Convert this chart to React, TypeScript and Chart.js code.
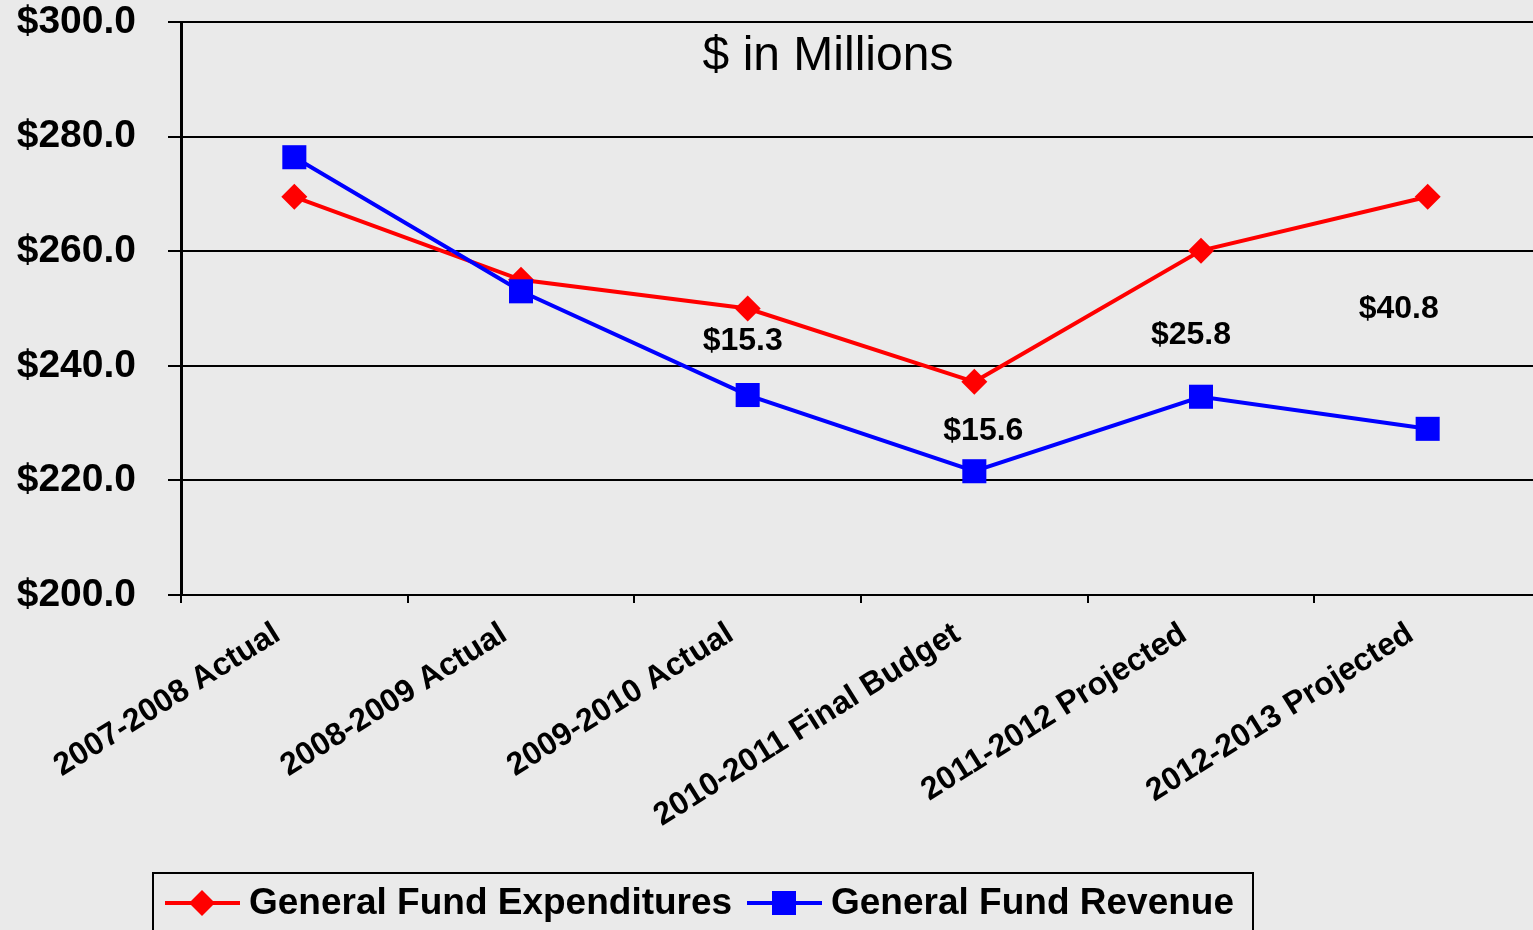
import React, { useEffect, useRef } from 'react';
import { Chart, registerables } from 'chart.js';

Chart.register(...registerables);

const categories = [
  '2007-2008 Actual',
  '2008-2009 Actual',
  '2009-2010 Actual',
  '2010-2011 Final Budget',
  '2011-2012 Projected',
  '2012-2013 Projected',
];
const expenditures = [269.5, 255.0, 250.0, 237.2, 260.1, 269.5];
const revenue = [276.4, 253.0, 234.9, 221.6, 234.6, 229.0];
const gapLabels = ['', '', '$15.3', '$15.6', '$25.8', '$40.8'];
const gapLabelValues = [0, 0, 244.3, 228.6, 245.4, 249.9];
const yMin = 200;
const yMax = 300;
const yStep = 20;
const titleText = '$ in Millions';
const seriesNames = ['General Fund Expenditures', 'General Fund Revenue'];

const FONT = 'Arial, "Liberation Sans", sans-serif';
const BG = '#EAEAEA';
const gapDx = [0, 0, -5, 9, -10, -29];

const overlayPlugin = {
  id: 'overlay',
  afterDatasetsDraw(chart: any) {
    const ctx = chart.ctx;
    const xs = chart.scales.x;
    const ys = chart.scales.y;
    ctx.save();
    ctx.fillStyle = '#000';
    ctx.textAlign = 'center';
    ctx.textBaseline = 'middle';
    ctx.font = `bold 32px ${FONT}`;
    gapLabels.forEach((t, i) => {
      if (!t) return;
      ctx.fillText(t, xs.getPixelForValue(i) + gapDx[i], ys.getPixelForValue(gapLabelValues[i]));
    });
    ctx.font = `48px ${FONT}`;
    ctx.fillText(titleText, chart.chartArea.left + 647, chart.chartArea.top + 35);
    ctx.restore();
  },
  afterDraw(chart: any) {
    const ctx = chart.ctx;
    ctx.save();
    ctx.fillStyle = BG;
    ctx.fillRect(153, 873, 1100, 80);
    ctx.strokeStyle = '#000';
    ctx.lineWidth = 2;
    ctx.strokeRect(153, 873, 1100, 80);
    const ly = 903;
    const items = [
      { x: 165, color: '#FF0000', style: 'diamond', textX: 249 },
      { x: 747, color: '#0000FF', style: 'square', textX: 831 },
    ];
    items.forEach((it, i) => {
      ctx.strokeStyle = it.color;
      ctx.lineWidth = 4;
      ctx.beginPath();
      ctx.moveTo(it.x, ly);
      ctx.lineTo(it.x + 75, ly);
      ctx.stroke();
      ctx.fillStyle = it.color;
      const cx = it.x + 37;
      ctx.beginPath();
      if (it.style === 'diamond') {
        ctx.moveTo(cx, ly - 13);
        ctx.lineTo(cx + 13, ly);
        ctx.lineTo(cx, ly + 13);
        ctx.lineTo(cx - 13, ly);
        ctx.closePath();
      } else {
        ctx.rect(cx - 12, ly - 12, 24, 24);
      }
      ctx.fill();
      ctx.fillStyle = '#000';
      ctx.font = `bold 37px ${FONT}`;
      ctx.textAlign = 'left';
      ctx.textBaseline = 'middle';
      ctx.fillText(seriesNames[i], it.textX, ly + 1);
    });
    ctx.restore();
  },
};

export default function App() {
  const ref = useRef<HTMLCanvasElement>(null);
  useEffect(() => {
    if (!ref.current) return;
    Chart.defaults.font.family = FONT;
    const chart = new Chart(ref.current, {
      type: 'line',
      data: {
        labels: categories,
        datasets: [
          {
            label: seriesNames[0],
            data: expenditures,
            order: 1,
            borderColor: '#FF0000',
            backgroundColor: '#FF0000',
            borderWidth: 4,
            pointStyle: 'rectRot',
            pointRadius: 13,
            pointBorderWidth: 0,
            pointBackgroundColor: '#FF0000',
            pointBorderColor: '#FF0000',
            tension: 0,
          },
          {
            label: seriesNames[1],
            data: revenue,
            order: 0,
            borderColor: '#0000FF',
            backgroundColor: '#0000FF',
            borderWidth: 4,
            pointStyle: 'rect',
            pointRadius: 17,
            pointBorderWidth: 0,
            pointBackgroundColor: '#0000FF',
            pointBorderColor: '#0000FF',
            tension: 0,
          },
        ],
      },
      options: {
        responsive: false,
        animation: false,
        devicePixelRatio: 1,
        layout: { padding: { left: 0, right: 0, top: 0, bottom: 0 } },
        plugins: {
          legend: { display: false },
          tooltip: { enabled: false },
          title: { display: false },
        },
        scales: {
          x: {
            type: 'category',
            offset: true,
            grid: {
              offset: true,
              drawOnChartArea: false,
              drawTicks: true,
              tickLength: 8,
              color: '#000',
              lineWidth: 2,
            },
            border: { display: true, color: '#000', width: 2 },
            ticks: {
              color: '#000',
              font: { size: 32, weight: 'bold', family: FONT },
              minRotation: 32,
              maxRotation: 32,
              autoSkip: false,
              padding: 12,
              labelOffset: -17,
            },
            afterFit: (s: any) => {
              s.height = 335;
              s.paddingLeft = 0;
              s.paddingRight = 0;
            },
          },
          y: {
            min: yMin,
            max: yMax,
            grid: {
              color: '#000',
              lineWidth: 2,
              tickLength: 13,
              drawTicks: true,
            },
            border: { display: true, color: '#000', width: 3 },
            ticks: {
              stepSize: yStep,
              color: '#000',
              font: { size: 39, weight: 'bold', family: FONT },
              padding: 32,
              callback: (v: any) => '$' + Number(v).toFixed(1),
            },
            afterFit: (s: any) => {
              s.width = 181;
              s.paddingTop = 22;
              s.paddingBottom = 0;
            },
          },
        },
      },
      plugins: [overlayPlugin],
    });
    return () => chart.destroy();
  }, []);
  return (
    <div
      style={{
        position: 'fixed',
        left: 0,
        top: 0,
        width: 1533,
        height: 930,
        overflow: 'hidden',
        background: BG,
      }}
    >
      <canvas ref={ref} width={1558} height={930} style={{ display: 'block' }} />
    </div>
  );
}
